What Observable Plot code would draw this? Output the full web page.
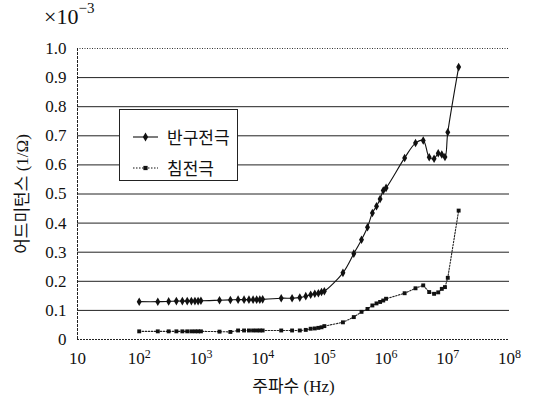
<!DOCTYPE html>
<html>
<head>
<meta charset="utf-8">
<script src="https://cdn.jsdelivr.net/npm/d3@7"></script>
<script src="https://cdn.jsdelivr.net/npm/@observablehq/plot@0.6"></script>
<style>
  html, body { margin: 0; padding: 0; background: white; }
  #wrap { position: relative; width: 542px; height: 398px; font-family: "Liberation Serif", "Noto Sans CJK KR", serif; }
  #scale { position: absolute; left: 44px; top: 4px; font-size: 22px; color: #111; line-height: 1; }
  #scale sup { font-size: 15px; position: relative; top: -3px; }
  #legend { position: absolute; left: 119px; top: 109px; width: 119px; height: 72px; border: 1px solid #222; background: white; font-size: 17px; color: #111; box-sizing: border-box; }
  .item { position: absolute; left: 13px; display: flex; align-items: center; }
  .item svg { margin-right: 9px; }
</style>
</head>
<body>
<div id="wrap">
  <div id="chart"></div>
  <div id="scale">×10<sup>−3</sup></div>
  <div id="legend"></div>
</div>
<script>
// frequencies (Hz)
const freq = [100,200,300,400,500,600,700,800,900,1000,
  2000,3000,4000,5000,6000,7000,8000,9000,10000,
  20000,30000,40000,50000,60000,70000,80000,90000,100000,
  200000,300000,400000,500000,600000,700000,800000,900000,1000000,
  2000000,3000000,4000000,5000000,6000000,7000000,8000000,9000000,10000000,
  15000000];
// admittance (×10^-3 1/Ω)
const hemi = [0.130,0.130,0.131,0.132,0.132,0.132,0.132,0.132,0.132,0.133,
  0.135,0.136,0.137,0.137,0.137,0.137,0.137,0.137,0.138,
  0.142,0.142,0.144,0.149,0.154,0.157,0.159,0.163,0.166,
  0.229,0.295,0.343,0.386,0.435,0.458,0.483,0.512,0.521,
  0.624,0.675,0.684,0.626,0.621,0.640,0.636,0.627,0.712,
  0.936];
const needle = [0.028,0.028,0.028,0.028,0.028,0.028,0.028,0.028,0.028,0.028,
  0.027,0.026,0.031,0.031,0.031,0.031,0.031,0.031,0.031,
  0.031,0.031,0.031,0.033,0.037,0.038,0.040,0.042,0.046,
  0.059,0.077,0.095,0.105,0.117,0.124,0.129,0.134,0.140,
  0.159,0.176,0.186,0.163,0.157,0.162,0.174,0.180,0.212,
  0.443];
const seriesNames = ["반구전극", "침전극"];
const xTicks = [1e1,1e2,1e3,1e4,1e5,1e6,1e7,1e8];
const xTickLabels = ["10","10^2","10^3","10^4","10^5","10^6","10^7","10^8"];
const yTicks = [0,0.1,0.2,0.3,0.4,0.5,0.6,0.7,0.8,0.9,1.0];
const yTickLabels = ["0","0.1","0.2","0.3","0.4","0.5","0.6","0.7","0.8","0.9","1.0"];

const s1 = freq.map((f,i) => ({f, v: hemi[i]}));
const s2 = freq.map((f,i) => ({f, v: needle[i]}));
const gridVals = yTicks.slice(1, 10);

const plot = Plot.plot({
  width: 542, height: 398,
  marginLeft: 77, marginRight: 33, marginTop: 48, marginBottom: 59,
  style: {fontFamily: '"Liberation Serif", "Noto Sans CJK KR", serif', fontSize: "17px", background: "white", color: "#111"},
  x: {type: "log", domain: [10, 1e8]},
  y: {domain: [0, 1.0]},
  marks: [
    Plot.ruleY(gridVals, {stroke: "#222", strokeWidth: 1}),
    Plot.ruleY([1.0], {stroke: "#333", strokeWidth: 1, strokeDasharray: "1,1.5"}),
    Plot.ruleY([0], {stroke: "#222", strokeWidth: 1.2, strokeDasharray: "2,1"}),
    Plot.ruleX([10], {stroke: "#222", strokeWidth: 1, strokeDasharray: "3,1"}),
    Plot.axisX({ticks: xTicks, tickSize: 0, tickPadding: 12,
      tickFormat: d => xTickLabels[xTicks.findIndex(t => Math.abs(t - d) / t < 1e-6)],
      label: "주파수 (Hz)", labelAnchor: "center", labelOffset: 52, labelArrow: false}),
    Plot.axisY({ticks: yTicks, tickSize: 0, tickPadding: 11,
      tickFormat: d => yTickLabels[Math.round(d * 10)],
      label: "어드미턴스 (1/Ω)", labelAnchor: "center", labelOffset: 62, labelArrow: false}),
    Plot.line(s1, {x: "f", y: "v", stroke: "#111", strokeWidth: 1.1, curve: "catmull-rom"}),
    Plot.dot(s1, {x: "f", y: "v", symbol: "diamond", r: 2.6, fill: "#111"}),
    Plot.line(s2, {x: "f", y: "v", stroke: "#222", strokeWidth: 1.1, strokeDasharray: "1.5,1.5"}),
    Plot.dot(s2, {x: "f", y: "v", symbol: "square", r: 2.2, fill: "#111"})
  ]
});
document.getElementById("chart").appendChild(plot);

// superscripts on x tick labels
d3.select(plot).selectAll('g[aria-label="x-axis tick label"] text').each(function() {
  const t = d3.select(this);
  const s = t.text();
  if (s.includes("^")) {
    const [base, exp] = s.split("^");
    t.text(base);
    t.append("tspan").attr("dy", "-0.45em").attr("font-size", "12px").text(exp);
  }
});

// legend
const legend = d3.select("#legend");
const items = [
  {name: seriesNames[0], sym: "diamond", dash: null, top: 14},
  {name: seriesNames[1], sym: "square", dash: "1.5,1.5", top: 45}
];
items.forEach(it => {
  const row = legend.append("div").attr("class", "item").style("top", it.top + "px");
  const svg = row.append("svg").attr("width", 25).attr("height", 12);
  svg.append("line").attr("x1", 0).attr("x2", 25).attr("y1", 6).attr("y2", 6)
    .attr("stroke", "#111").attr("stroke-width", 1.1).attr("stroke-dasharray", it.dash);
  svg.append("path").attr("transform", "translate(12.5,6)")
    .attr("d", d3.symbol(it.sym === "diamond" ? d3.symbolDiamond : d3.symbolSquare, it.sym === "diamond" ? 24 : 18)())
    .attr("fill", "#111");
  row.append("span").text(it.name);
});
</script>
</body>
</html>
